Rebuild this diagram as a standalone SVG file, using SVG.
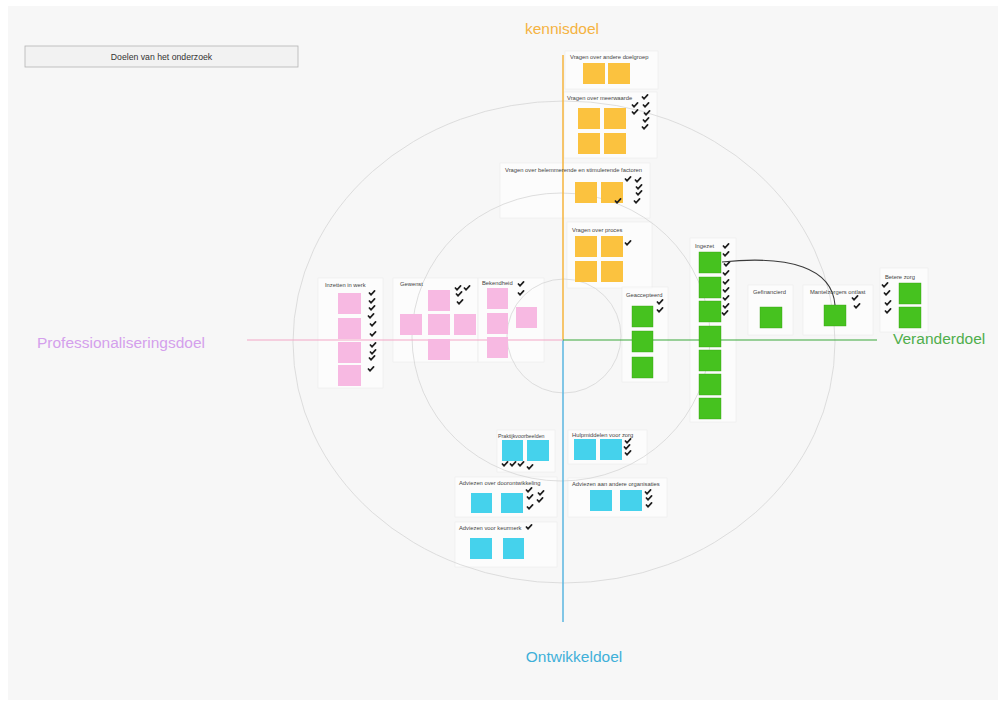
<svg xmlns="http://www.w3.org/2000/svg" xmlns:xlink="http://www.w3.org/1999/xlink" width="1006" height="706" viewBox="0 0 1006 706">
  <style>
    .panel { fill: #ffffff; fill-opacity: 0.6; stroke: #ebebeb; stroke-width: 0.6; }
    .ttl { font-family: "Liberation Sans", Arial, sans-serif; font-size: 5.8px; fill: #444; }
    .o { fill: #fbc23f; }
    .p { fill: #f7b9e2; }
    .g { fill: #46c21f; stroke: #36a012; stroke-width: 0.4; }
    .b { fill: #45d2ec; }
    .ring { fill: none; stroke: #d5d5d5; stroke-width: 0.8; }
    .goal { font-family: "Liberation Sans", Arial, sans-serif; font-size: 15.5px; }
  </style>
  <defs>
    <path id="ck" d="M-2.6,0 L-0.9,1.8 L2.6,-2.1" fill="none" stroke="#1e1e1e" stroke-width="1.7" stroke-linecap="round" stroke-linejoin="round"/>
  </defs>

  <!-- canvas -->
  <rect x="0" y="0" width="1006" height="706" fill="#ffffff"/>
  <rect x="8" y="6" width="990" height="694" fill="#f7f7f7"/>

  <!-- title box -->
  <g id="title-box">
    <rect x="25" y="46" width="273" height="21" fill="#f2f2f2" stroke="#b5b5b5" stroke-width="0.8"/>
    <text x="161.5" y="59.5" text-anchor="middle" font-family="Liberation Sans, Arial, sans-serif" font-size="8.7" fill="#333">Doelen van het onderzoek</text>
  </g>

  <!-- panels (drawn under the rings) -->
  <g id="panels">
    <rect class="panel" x="565" y="51" width="93" height="38"/>
    <rect class="panel" x="564" y="92" width="93" height="66"/>
    <rect class="panel" x="500" y="163" width="150" height="55"/>
    <rect class="panel" x="567" y="222" width="85" height="66"/>
    <rect class="panel" x="318" y="278" width="65" height="110"/>
    <rect class="panel" x="393" y="278" width="85" height="84"/>
    <rect class="panel" x="478" y="278" width="66" height="84"/>
    <rect class="panel" x="622" y="287" width="46" height="95"/>
    <rect class="panel" x="690" y="238" width="46" height="184"/>
    <rect class="panel" x="748" y="285" width="45" height="50"/>
    <rect class="panel" x="803" y="285" width="70" height="50"/>
    <rect class="panel" x="880" y="268" width="48" height="64"/>
    <rect class="panel" x="497" y="430" width="58" height="42"/>
    <rect class="panel" x="568" y="430" width="79" height="34"/>
    <rect class="panel" x="455" y="477" width="102" height="40"/>
    <rect class="panel" x="455" y="522" width="102" height="45"/>
    <rect class="panel" x="568" y="478" width="99" height="39"/>
  </g>

  <!-- concentric rings -->
  <g id="rings">
    <ellipse class="ring" cx="564" cy="342" rx="271" ry="241"/>
    <ellipse class="ring" cx="561" cy="337" rx="149" ry="144"/>
    <circle class="ring" cx="564" cy="336" r="57"/>
  </g>

  <!-- axes -->
  <g id="axes">
    <line x1="563" y1="55" x2="563" y2="340" stroke="#f6b53e" stroke-width="1.5"/>
    <line x1="563" y1="340" x2="563" y2="622" stroke="#5ab6e0" stroke-width="1.5"/>
    <line x1="247" y1="340" x2="563" y2="340" stroke="#f3a6c6" stroke-width="1"/>
    <line x1="563" y1="340" x2="877" y2="340" stroke="#3aa83a" stroke-width="1.2"/>
  </g>

  <!-- goal labels -->
  <g id="goals">
    <text class="goal" x="562" y="34" text-anchor="middle" fill="#f5b342">kennisdoel</text>
    <text class="goal" x="37" y="348" fill="#d4a0ec">Professionaliseringsdoel</text>
    <text class="goal" x="893" y="344" fill="#4fae4c">Veranderdoel</text>
    <text class="goal" x="574" y="662" text-anchor="middle" fill="#3fb0d9">Ontwikkeldoel</text>
  </g>

  <!-- kennisdoel: question clusters -->
  <g id="q-doelgroep">
    <text class="ttl" x="570" y="59">Vragen over andere doelgroep</text>
    <rect class="o" x="583" y="63" width="22" height="21"/>
    <rect class="o" x="608" y="63" width="22" height="21"/>
  </g>
  <g id="q-meerwaarde">
    <text class="ttl" x="567" y="100">Vragen over meerwaarde</text>
    <rect class="o" x="578" y="108" width="22" height="21"/>
    <rect class="o" x="604" y="108" width="22" height="21"/>
    <rect class="o" x="578" y="133" width="22" height="21"/>
    <rect class="o" x="604" y="133" width="22" height="21"/>
    <use href="#ck" x="645" y="97"/><use href="#ck" x="635" y="105"/><use href="#ck" x="646" y="105"/>
    <use href="#ck" x="635" y="112"/><use href="#ck" x="647" y="113"/><use href="#ck" x="646" y="120"/>
    <use href="#ck" x="645" y="127"/>
  </g>
  <g id="q-factoren">
    <text class="ttl" x="505" y="172">Vragen over belemmerende en stimulerende factoren</text>
    <rect class="o" x="575" y="182" width="22" height="21"/>
    <rect class="o" x="601" y="182" width="22" height="21"/>
    <use href="#ck" x="628" y="179"/><use href="#ck" x="638" y="180"/><use href="#ck" x="639" y="187"/>
    <use href="#ck" x="639" y="193"/><use href="#ck" x="637" y="201"/><use href="#ck" x="618" y="201"/>
  </g>
  <g id="q-proces">
    <text class="ttl" x="572" y="232">Vragen over proces</text>
    <rect class="o" x="575" y="236" width="22" height="21"/>
    <rect class="o" x="601" y="236" width="22" height="21"/>
    <rect class="o" x="575" y="261" width="22" height="21"/>
    <rect class="o" x="601" y="261" width="22" height="21"/>
    <use href="#ck" x="628" y="243"/>
  </g>

  <!-- professionaliseringsdoel -->
  <g id="p-inzetten">
    <text class="ttl" x="325" y="287">Inzetten in werk</text>
    <rect class="p" x="338" y="293" width="23" height="21"/>
    <rect class="p" x="338" y="318" width="23" height="21"/>
    <rect class="p" x="338" y="342" width="23" height="21"/>
    <rect class="p" x="338" y="365" width="23" height="21"/>
    <use href="#ck" x="372" y="293"/><use href="#ck" x="372" y="301"/><use href="#ck" x="372" y="308"/>
    <use href="#ck" x="371" y="316"/><use href="#ck" x="373" y="324"/><use href="#ck" x="373" y="334"/>
    <use href="#ck" x="373" y="345"/><use href="#ck" x="373" y="352"/><use href="#ck" x="372" y="358"/>
    <use href="#ck" x="371" y="369"/>
  </g>
  <g id="p-gewenst">
    <text class="ttl" x="400" y="286">Gewenst</text>
    <rect class="p" x="428" y="290" width="22" height="21"/>
    <rect class="p" x="400" y="314" width="22" height="21"/>
    <rect class="p" x="428" y="314" width="22" height="21"/>
    <rect class="p" x="454" y="314" width="22" height="21"/>
    <rect class="p" x="428" y="339" width="22" height="21"/>
    <use href="#ck" x="458" y="288"/><use href="#ck" x="467" y="288"/><use href="#ck" x="459" y="294"/>
    <use href="#ck" x="460" y="302"/>
  </g>
  <g id="p-bekendheid">
    <text class="ttl" x="482" y="285">Bekendheid</text>
    <rect class="p" x="487" y="288" width="21" height="21"/>
    <rect class="p" x="487" y="313" width="21" height="21"/>
    <rect class="p" x="487" y="337" width="21" height="21"/>
    <rect class="p" x="516" y="307" width="21" height="21"/>
    <use href="#ck" x="521" y="284"/><use href="#ck" x="521" y="293"/>
  </g>

  <!-- veranderdoel -->
  <g id="v-geaccepteerd">
    <text class="ttl" x="626" y="297">Geaccepteerd</text>
    <rect class="g" x="632" y="306" width="21" height="21"/>
    <rect class="g" x="632" y="331" width="21" height="21"/>
    <rect class="g" x="632" y="357" width="21" height="21"/>
    <use href="#ck" x="660" y="302"/><use href="#ck" x="660" y="310"/>
  </g>
  <g id="v-ingezet">
    <text class="ttl" x="695" y="248">Ingezet</text>
    <rect class="g" x="699" y="252" width="22" height="21"/>
    <rect class="g" x="699" y="277" width="22" height="21"/>
    <rect class="g" x="699" y="301" width="22" height="21"/>
    <rect class="g" x="699" y="326" width="22" height="21"/>
    <rect class="g" x="699" y="350" width="22" height="21"/>
    <rect class="g" x="699" y="374" width="22" height="21"/>
    <rect class="g" x="699" y="398" width="22" height="21"/>
    <use href="#ck" x="726" y="246"/><use href="#ck" x="726" y="254"/><use href="#ck" x="727" y="264"/>
    <use href="#ck" x="726" y="273"/><use href="#ck" x="726" y="282"/><use href="#ck" x="726" y="290"/>
    <use href="#ck" x="726" y="298"/><use href="#ck" x="726" y="306"/><use href="#ck" x="725" y="313"/>
  </g>
  <g id="v-gefinancierd">
    <text class="ttl" x="753" y="294">Gefinancierd</text>
    <rect class="g" x="760" y="307" width="22" height="21"/>
  </g>
  <g id="v-mantelzorgers">
    <text class="ttl" x="810" y="294">Mantelzorgers ontlast</text>
    <rect class="g" x="824" y="305" width="22" height="21"/>
    <use href="#ck" x="855" y="298"/><use href="#ck" x="857" y="306"/>
  </g>
  <g id="v-beterezorg">
    <text class="ttl" x="885" y="279">Betere zorg</text>
    <rect class="g" x="899" y="283" width="22" height="21"/>
    <rect class="g" x="899" y="307" width="22" height="21"/>
    <use href="#ck" x="885" y="285"/><use href="#ck" x="887" y="293"/><use href="#ck" x="888" y="303"/>
    <use href="#ck" x="888" y="311"/>
  </g>

  <!-- ontwikkeldoel -->
  <g id="o-praktijk">
    <text class="ttl" x="498" y="438" style="font-size:5.3px">Praktijkvoorbeelden</text>
    <rect class="b" x="502" y="440" width="21" height="21"/>
    <rect class="b" x="527" y="440" width="22" height="21"/>
    <use href="#ck" x="505" y="464"/><use href="#ck" x="513" y="464"/><use href="#ck" x="521" y="464"/>
    <use href="#ck" x="530" y="467"/>
  </g>
  <g id="o-hulpmiddelen">
    <text class="ttl" x="572" y="437">Hulpmiddelen voor zorg</text>
    <rect class="b" x="574" y="439" width="22" height="21"/>
    <rect class="b" x="600" y="439" width="22" height="21"/>
    <use href="#ck" x="628" y="441"/><use href="#ck" x="627" y="447"/><use href="#ck" x="628" y="453"/>
  </g>
  <g id="o-doorontwikkeling">
    <text class="ttl" x="459" y="485">Adviezen over doorontwikkeling</text>
    <rect class="b" x="471" y="493" width="21" height="20"/>
    <rect class="b" x="501" y="493" width="22" height="20"/>
    <use href="#ck" x="529" y="490"/><use href="#ck" x="541" y="493"/><use href="#ck" x="530" y="497"/>
    <use href="#ck" x="540" y="500"/><use href="#ck" x="530" y="507"/>
  </g>
  <g id="o-keurmerk">
    <text class="ttl" x="459" y="530">Adviezen voor keurmerk</text>
    <rect class="b" x="470" y="538" width="22" height="21"/>
    <rect class="b" x="503" y="538" width="21" height="21"/>
    <use href="#ck" x="529" y="527"/>
  </g>
  <g id="o-organisaties">
    <text class="ttl" x="572" y="486">Adviezen aan andere organisaties</text>
    <rect class="b" x="590" y="490" width="22" height="21"/>
    <rect class="b" x="620" y="490" width="22" height="21"/>
    <use href="#ck" x="648" y="492"/><use href="#ck" x="649" y="498"/><use href="#ck" x="649" y="505"/>
  </g>

  <!-- connectors -->
  <g id="connectors">
    <path d="M722,262 C790,255 832,268 835,305" fill="none" stroke="#3a3a3a" stroke-width="1.1"/>
  </g>
</svg>
